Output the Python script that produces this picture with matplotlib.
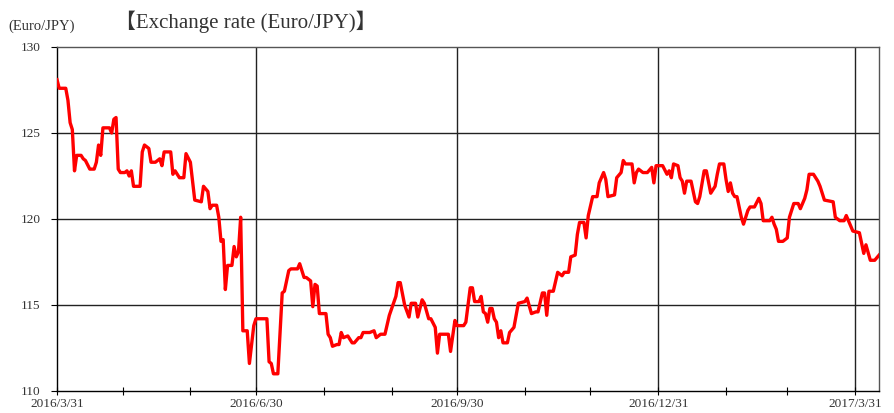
import numpy as np
import pandas as pd
import matplotlib
matplotlib.use("Agg")
import matplotlib.pyplot as plt
import matplotlib.dates as mdates

# days since 2016/3/31 and the Euro/JPY rate
days = [0, 1, 4, 5, 6, 7, 8, 9, 11, 12, 13, 15, 17, 18, 19, 20, 21, 24, 25, 26,
        27, 28, 29, 31, 32, 33, 34, 35, 38, 39, 40, 42, 43, 45, 47, 48, 49, 52, 53, 54,
        56, 58, 59, 61, 63, 66, 67, 69, 70, 71, 73, 74, 75, 76, 77, 78, 80, 81, 82, 83,
        84, 85, 87, 88, 90, 91, 93, 96, 97, 98, 99, 101, 103, 104, 106, 107, 110, 111, 113, 114,
        116, 117, 118, 119, 120, 123, 124, 125, 126, 128, 129, 130, 131, 133, 134, 135, 136, 138, 139, 140,
        143, 145, 146, 148, 150, 152, 155, 156, 157, 159, 161, 162, 164, 165, 167, 168, 170, 171, 173, 174,
        175, 179, 180, 182, 183, 186, 187, 189, 190, 191, 193, 194, 195, 196, 197, 198, 199, 200, 201, 202,
        203, 204, 206, 207, 209, 211, 214, 215, 217, 219, 220, 222, 223, 224, 225, 227, 229, 231, 232, 234,
        235, 237, 238, 239, 241, 242, 243, 245, 247, 248, 250, 251, 252, 255, 256, 258, 259, 260, 263, 264,
        265, 266, 268, 270, 272, 273, 274, 277, 279, 280, 281, 282, 284, 285, 286, 287, 288, 290, 292, 293,
        294, 296, 297, 299, 301, 302, 303, 305, 306, 307, 308, 309, 310, 311, 313, 314, 316, 317, 319, 321,
        322, 323, 326, 327, 328, 329, 330, 332, 334, 335, 337, 339, 340, 342, 343, 344, 346, 348, 349, 351,
        355, 356, 358, 360, 361, 363, 364, 367, 369, 370, 372, 374, 376]
rate = [128.1, 127.6, 127.6, 126.9, 125.6, 125.2, 122.8, 123.7, 123.7, 123.5, 123.4, 122.9, 122.9, 123.3, 124.3, 123.7, 125.3, 125.3, 125.0, 125.8,
        125.9, 122.9, 122.7, 122.7, 122.8, 122.5, 122.8, 121.9, 121.9, 123.9, 124.3, 124.1, 123.3, 123.3, 123.5, 123.1, 123.9, 123.9, 122.6, 122.8,
        122.4, 122.4, 123.8, 123.3, 121.1, 121.0, 121.9, 121.6, 120.6, 120.8, 120.8, 120.1, 118.7, 118.8, 115.9, 117.3, 117.3, 118.4, 117.8, 118.1,
        120.1, 113.5, 113.5, 111.6, 113.8, 114.2, 114.2, 114.2, 111.7, 111.6, 111.0, 111.0, 115.7, 115.8, 117.0, 117.1, 117.1, 117.4, 116.6, 116.6,
        116.4, 114.9, 116.2, 116.1, 114.5, 114.5, 113.3, 113.1, 112.6, 112.7, 112.7, 113.4, 113.1, 113.2, 113.0, 112.8, 112.8, 113.1, 113.1, 113.4,
        113.4, 113.5, 113.1, 113.3, 113.3, 114.4, 115.5, 116.3, 116.3, 115.0, 114.3, 115.1, 115.1, 114.3, 115.3, 115.1, 114.2, 114.2, 113.7, 112.2,
        113.3, 113.3, 112.3, 114.1, 113.8, 113.8, 114.0, 116.0, 116.0, 115.2, 115.2, 115.5, 114.6, 114.5, 114.0, 114.8, 114.8, 114.2, 114.0, 113.1,
        113.5, 112.8, 112.8, 113.4, 113.7, 115.1, 115.2, 115.4, 114.5, 114.6, 114.6, 115.7, 115.7, 114.4, 115.8, 115.8, 116.9, 116.7, 116.9, 116.9,
        117.8, 117.9, 119.1, 119.8, 119.8, 118.9, 120.2, 121.3, 121.3, 122.1, 122.7, 122.3, 121.3, 121.4, 122.4, 122.7, 123.4, 123.2, 123.2, 122.1,
        122.7, 122.9, 122.7, 122.7, 123.0, 122.1, 123.1, 123.1, 122.6, 122.8, 122.4, 123.2, 123.1, 122.4, 122.2, 121.5, 122.2, 122.2, 121.0, 120.9,
        121.3, 122.8, 122.8, 121.5, 121.9, 122.6, 123.2, 123.2, 122.3, 121.6, 122.1, 121.5, 121.3, 121.3, 120.1, 119.7, 120.5, 120.7, 120.7, 121.2,
        120.9, 119.9, 119.9, 120.1, 119.7, 119.4, 118.7, 118.7, 118.9, 120.1, 120.9, 120.9, 120.6, 121.2, 121.7, 122.6, 122.6, 122.2, 121.9, 121.1,
        121.0, 120.1, 119.9, 119.9, 120.2, 119.6, 119.3, 119.2, 118.0, 118.5, 117.6, 117.6, 117.9]

start = pd.Timestamp("2016-03-31")
dates = start + pd.to_timedelta(days, unit="D")

quarter_ticks = ["2016-03-31", "2016-06-30", "2016-09-30", "2016-12-31", "2017-03-31"]
quarter_labels = ["2016/3/31", "2016/6/30", "2016/9/30", "2016/12/31", "2017/3/31"]
month_ticks = ["2016-04-30", "2016-05-31", "2016-07-31", "2016-08-31",
               "2016-10-31", "2016-11-30", "2017-01-31", "2017-02-28"]
y_ticks = [110, 115, 120, 125, 130]

serif = ["Liberation Serif", "Noto Sans CJK JP", "DejaVu Serif"]
plt.rcParams["font.family"] = serif

fig = plt.figure(figsize=(8.95, 4.13), dpi=100)
ax = fig.add_axes([0.0637, 0.0533, 0.9185, 0.8329])

ax.plot(dates, rate, color="#ff0000", lw=2.4, solid_joinstyle="round", zorder=3)

ax.set_xlim(start, start + pd.Timedelta(days=376))
ax.set_ylim(110, 130)

qt = pd.to_datetime(quarter_ticks)
ax.set_xticks(qt)
ax.set_xticklabels(quarter_labels)
ax.set_xticks(pd.to_datetime(month_ticks), minor=True)
ax.set_yticks(y_ticks)

for d in qt[1:]:
    ax.axvline(d, color="#222222", lw=1.0, zorder=1)
for v in y_ticks[1:-1]:
    ax.axhline(v, color="#222222", lw=1.0, zorder=1)

ax.tick_params(axis="x", which="both", direction="inout", length=6, width=0.8,
               labelsize=9.5, labelcolor="#333333", pad=2)
ax.tick_params(axis="y", direction="out", length=4, width=0.8,
               labelsize=9.5, labelcolor="#333333", pad=8)
for s in ["top", "right"]:
    ax.spines[s].set_color("#555555")
    ax.spines[s].set_linewidth(1.0)
for s in ["left", "bottom"]:
    ax.spines[s].set_color("#000000")
    ax.spines[s].set_linewidth(1.0)

fig.text(0.009, 0.937, "(Euro/JPY)", fontsize=10.5, color="#333333", va="center")
fig.text(0.128, 0.947, "【Exchange rate (Euro/JPY)】", fontsize=15, color="#333333", va="center")

fig.savefig("out.png", dpi=100)
